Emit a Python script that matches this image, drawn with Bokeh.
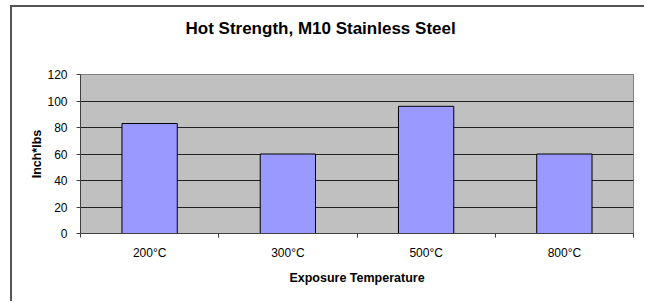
from bokeh.plotting import figure
from bokeh.models import FixedTicker, Range1d, ColumnDataSource
from bokeh.embed import file_html
from bokeh.resources import INLINE

title_text = "Hot Strength, M10 Stainless Steel"
categories = ["200°C", "300°C", "500°C", "800°C"]
values = [83, 60, 96, 60]
y_ticks = [0, 20, 40, 60, 80, 100, 120]

xpos = [i + 0.5 for i in range(len(categories))]
src = ColumnDataSource(dict(x=xpos, top=values, cat=categories))

p = figure(width=634, height=296, output_backend="svg", toolbar_location=None,
           x_range=Range1d(0, len(categories)), y_range=Range1d(0, 120),
           min_border_left=68, min_border_right=13, min_border_top=67, min_border_bottom=70,
           title=title_text + "\n")
p.styles = {"margin-left": "10px", "margin-top": "5px",
            "border-left": "2px solid #555555", "border-top": "2px solid #555555"}
p.border_fill_color = "white"
p.title.align = "left"
p.title.offset = 105
p.title.text_font = "Liberation Sans"
p.title.text_font_size = "17px"
p.title.text_font_style = "bold"
p.title.text_color = "black"
p.title.text_line_height = 1.5
p.title.standoff = 17

p.vbar(x="x", top="top", width=0.4, source=src, fill_color="#9999FF", line_color="black", line_width=1)

p.background_fill_color = "#C0C0C0"
p.outline_line_color = "#808080"

p.xaxis.ticker = FixedTicker(ticks=xpos, minor_ticks=list(range(len(categories) + 1)))
p.xaxis.major_label_overrides = {x: c for x, c in zip(xpos, categories)}
p.xaxis.major_tick_line_color = None
p.xaxis.minor_tick_out = 4
p.xaxis.minor_tick_in = 0
p.xaxis.minor_tick_line_color = "#404040"
p.xaxis.axis_line_color = "#404040"
p.xaxis.axis_label = "Exposure Temperature"
p.xaxis.major_label_standoff = 6

p.yaxis.ticker = FixedTicker(ticks=y_ticks)
p.yaxis.minor_tick_line_color = None
p.yaxis.major_tick_out = 4
p.yaxis.major_tick_in = 0
p.yaxis.major_tick_line_color = "#404040"
p.yaxis.axis_line_color = "#404040"
p.yaxis.axis_label = "Inch*lbs"
p.yaxis.major_label_standoff = 9

for ax in (p.xaxis[0], p.yaxis[0]):
    ax.major_label_text_font = "Liberation Sans"
    ax.major_label_text_font_size = "12px"
    ax.major_label_text_color = "black"
    ax.axis_label_text_font = "Liberation Sans"
    ax.axis_label_text_font_size = "12.5px"
    ax.axis_label_text_font_style = "bold"
    ax.axis_label_text_color = "black"
p.xaxis.axis_label_standoff = 8
p.yaxis.axis_label_standoff = 0

p.xgrid.grid_line_color = None
p.ygrid.grid_line_color = "#222222"
p.ygrid.grid_line_width = 1

open("out.html", "w").write(file_html(p, INLINE))
